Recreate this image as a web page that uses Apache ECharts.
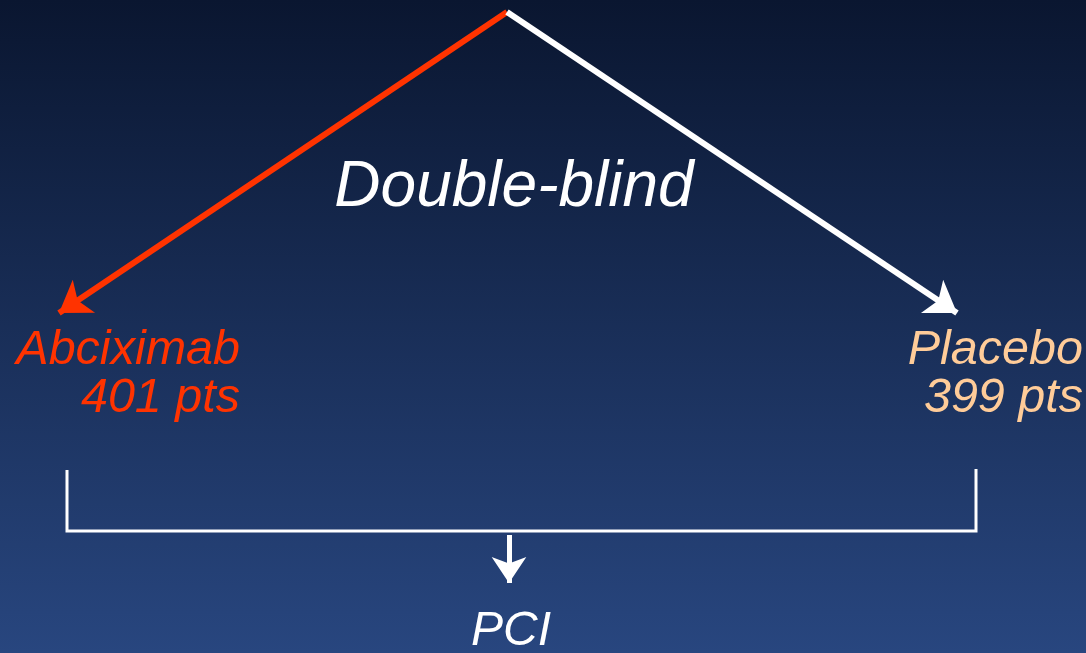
<!DOCTYPE html>
<html>
<head>
<meta charset="utf-8">
<script src="https://cdn.jsdelivr.net/npm/echarts@6/dist/echarts.min.js"></script>
<style>
  html, body { margin: 0; padding: 0; width: 1086px; height: 653px; overflow: hidden; background: #152750; }
  #chart { width: 1086px; height: 653px; }
</style>
</head>
<body>
<div id="chart"></div>
<script>
// ---- Diagram data (diagram units: x 0..1086, y 0..653, y downward) ----
const apex = [507, 12];
const armEnds = [[59, 313], [957, 313]];           // arrow tips: Abciximab arm, Placebo arm
const armNames = ['Abciximab', 'Placebo'];
const armCounts = ['401 pts', '399 pts'];
const bracket = [[67, 470], [67, 531], [976, 531], [976, 469]];
const pciArrow = [[509, 535], [509, 583]];
const titleText = 'Double-blind';
const titlePos = [514, 210];                       // centre, baseline
const nameAnchors = [[240, 367], [1083, 367]];     // right edge, baseline
const countAnchors = [[240, 415], [1083, 415]];
const pciText = 'PCI';
const pciPos = [511, 648];

// ---- Styles ----
const RED = '#ff3300';
const PEACH = '#ffcc99';
const WHITE = '#ffffff';
const FONT_FAMILY = '"Liberation Sans", Arial, Helvetica, sans-serif';

const armColors = [RED, WHITE];
const labelColors = [RED, PEACH];

const texts = [
  { text: titleText, pos: titlePos, color: WHITE, size: 64, align: 'center' },
  { text: armNames[0], pos: nameAnchors[0], color: labelColors[0], size: 48.5, align: 'right' },
  { text: armCounts[0], pos: countAnchors[0], color: labelColors[0], size: 48.5, align: 'right' },
  { text: armNames[1], pos: nameAnchors[1], color: labelColors[1], size: 48.5, align: 'right' },
  { text: armCounts[1], pos: countAnchors[1], color: labelColors[1], size: 48.5, align: 'right' },
  { text: pciText, pos: pciPos, color: WHITE, size: 48, align: 'center' }
];

const chart = echarts.init(document.getElementById('chart'), null, { renderer: 'canvas' });

chart.setOption({
  animation: false,
  backgroundColor: {
    type: 'linear', x: 0, y: 0, x2: 0, y2: 1,
    colorStops: [
      { offset: 0, color: '#0a1630' },
      { offset: 1, color: '#28467f' }
    ]
  },
  grid: { left: 0, right: 0, top: 0, bottom: 0, containLabel: false },
  xAxis: { type: 'value', min: 0, max: 1086, show: false },
  yAxis: { type: 'value', min: 0, max: 653, inverse: true, show: false },
  series: [
    {
      type: 'lines',
      coordinateSystem: 'cartesian2d',
      symbol: ['none', 'arrow'],
      symbolSize: 30,
      silent: true,
      data: armEnds.map((end, i) => ({
        coords: [apex, end],
        lineStyle: { color: armColors[i], width: 6, opacity: 1 }
      })),
      z: 3
    },
    {
      type: 'lines',
      coordinateSystem: 'cartesian2d',
      polyline: true,
      symbol: 'none',
      silent: true,
      data: [{ coords: bracket, lineStyle: { color: WHITE, width: 3, opacity: 1 } }],
      z: 2
    },
    {
      type: 'lines',
      coordinateSystem: 'cartesian2d',
      symbol: ['none', 'arrow'],
      symbolSize: 26,
      silent: true,
      data: [{ coords: pciArrow, lineStyle: { color: WHITE, width: 5, opacity: 1 } }],
      z: 2
    },
    {
      type: 'custom',
      coordinateSystem: 'cartesian2d',
      silent: true,
      data: texts.map(t => [t.pos[0], t.pos[1]]),
      renderItem: function (params, api) {
        const t = texts[params.dataIndex];
        const p = api.coord([api.value(0), api.value(1)]);
        return {
          type: 'text',
          x: p[0],
          y: p[1] - 0.3465 * t.size,
          style: {
            text: t.text,
            fill: t.color,
            font: 'italic ' + t.size + 'px ' + FONT_FAMILY,
            align: t.align,
            verticalAlign: 'middle'
          }
        };
      },
      z: 4
    }
  ]
});
</script>
</body>
</html>
